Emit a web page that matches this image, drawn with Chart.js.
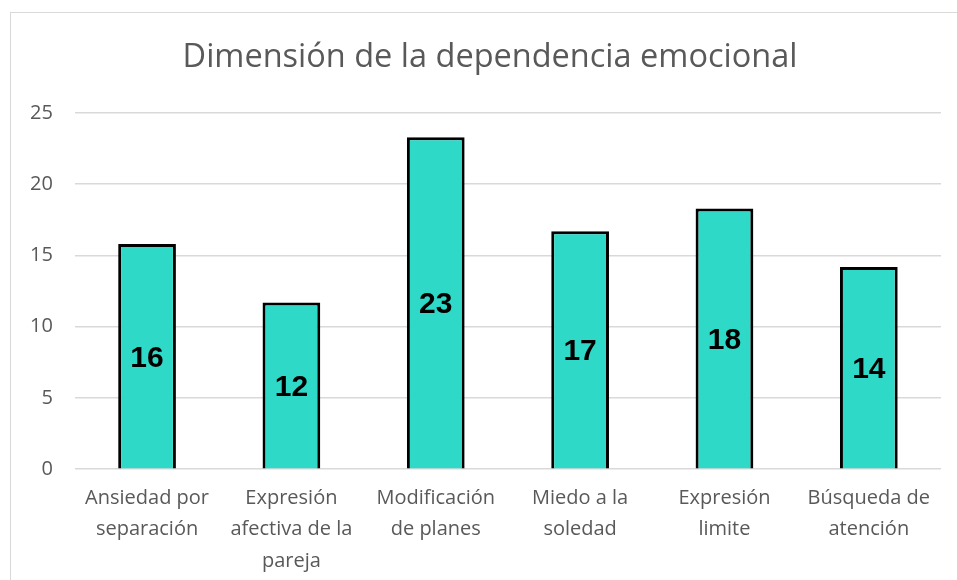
<!DOCTYPE html>
<html>
<head>
<meta charset="utf-8">
<script src="https://cdn.jsdelivr.net/npm/chart.js@4.4.1/dist/chart.umd.min.js"></script>
<style>
  html, body { margin:0; padding:0; background:#fff; }
  #wrap { position:absolute; left:0; top:0; width:957px; height:580px; }
  #frame { position:absolute; left:10px; top:12px; width:960px; height:600px;
           border-left:1px solid #d9d9d9; border-top:1px solid #d9d9d9; }
</style>
</head>
<body>
<div id="frame"></div>
<div id="wrap"><canvas id="chart" width="957" height="580"></canvas></div>
<script>
// ── data ────────────────────────────────────────────────────────────────────
const categories = [
  ['Ansiedad por', 'separación'],
  ['Expresión', 'afectiva de la', 'pareja'],
  ['Modificación', 'de planes'],
  ['Miedo a la', 'soledad'],
  ['Expresión', 'limite'],
  ['Búsqueda de', 'atención']
];
const values    = [15.8, 11.7, 23.3, 16.7, 18.3, 14.2];
const yTicks    = [0, 5, 10, 15, 20, 25];
const titleText = 'Dimensión de la dependencia emocional';

const FONT = "'Open Sans', 'DejaVu Sans', sans-serif";

// title centred on the chart frame (not on the plot), plus value labels in the bars
const overlay = {
  id: 'overlay',
  afterDatasetsDraw(chart) {
    const ctx = chart.ctx;
    ctx.save();
    ctx.font = `32.5px ${FONT}`;
    ctx.fillStyle = '#595959';
    ctx.textAlign = 'center';
    ctx.textBaseline = 'middle';
    ctx.fillText(titleText, 490, 58);

    ctx.font = "bold 30px 'Liberation Sans', Arial, sans-serif";
    ctx.fillStyle = '#000';
    chart.getDatasetMeta(0).data.forEach((bar, i) => {
      ctx.fillText(Math.round(values[i]), bar.x, (bar.y + bar.base) / 2 + 2);
    });
    ctx.restore();
  }
};

new Chart(document.getElementById('chart'), {
  type: 'bar',
  data: {
    labels: categories,
    datasets: [{
      data: values,
      backgroundColor: '#2ed9c8',
      borderColor: '#000',
      borderWidth: 3,
      barPercentage: 0.8,
      categoryPercentage: 0.5
    }]
  },
  options: {
    responsive: false,
    animation: false,
    layout: { padding: { left: 8, right: 16, top: 113, bottom: -2 } },
    plugins: {
      legend: { display: false },
      tooltip: { enabled: false },
      title: { display: false }
    },
    scales: {
      y: {
        min: 0, max: 25,
        afterBuildTicks: axis => { axis.ticks = yTicks.map(v => ({ value: v })); },
        grid: { color: '#d9d9d9', lineWidth: 1.5, drawTicks: false },
        border: { display: false },
        ticks: { color: '#595959', padding: 22, font: { family: FONT, size: 20 } }
      },
      x: {
        grid: { display: false },
        border: { display: false },
        ticks: { color: '#595959', padding: 5, maxRotation: 0, autoSkip: false,
                 font: { family: FONT, size: 20, lineHeight: 1.58 } }
      }
    }
  },
  plugins: [overlay]
});
</script>
</body>
</html>
